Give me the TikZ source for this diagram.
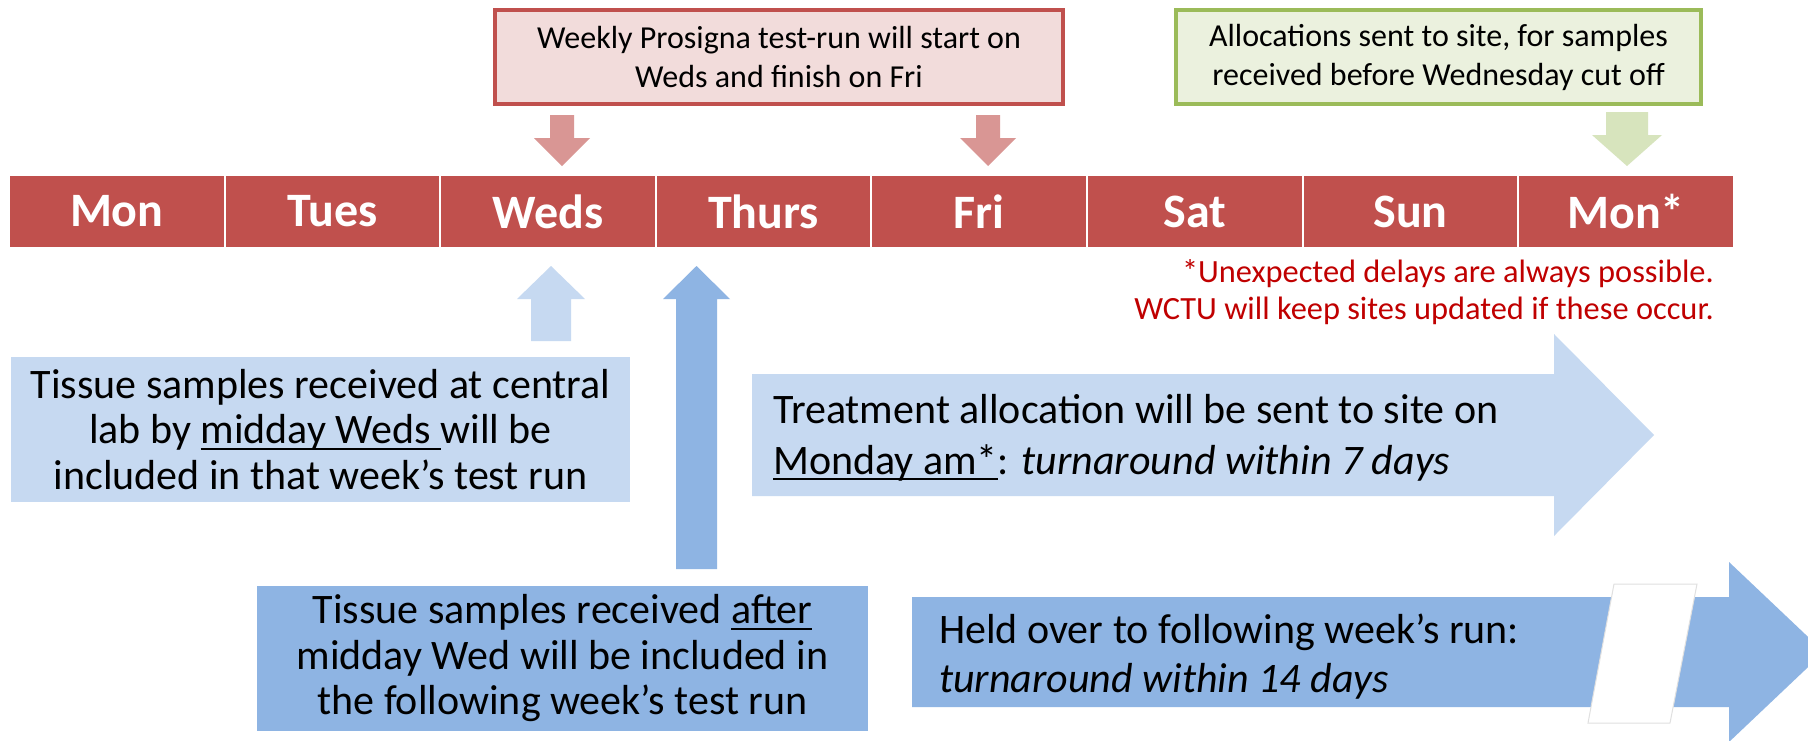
\documentclass[tikz,border=0pt]{standalone}
\usepackage{fontspec}
\setmainfont{Carlito}
\definecolor{dayred}{HTML}{C0504D}
\definecolor{pinkfill}{HTML}{F2DCDB}
\definecolor{redarrow}{HTML}{D99694}
\definecolor{greenborder}{HTML}{9BBB59}
\definecolor{greenfill}{HTML}{EBF1DE}
\definecolor{greenarrow}{HTML}{D7E4BD}
\definecolor{lightblue}{HTML}{C6D9F1}
\definecolor{midblue}{HTML}{8EB4E3}
\definecolor{notered}{HTML}{C00000}
\newcommand{\myul}[1]{\setbox0\hbox{#1}\rlap{\rule[-6pt]{\wd0}{2.2pt}}\box0}
\begin{document}
\begin{tikzpicture}[x=1pt,y=-1pt,
  daycell/.style={fill=dayred, draw=white, line width=2pt, minimum width=215.6pt,
    minimum height=73pt, inner sep=0pt, text=white,
    font=\fontsize{48}{58}\selectfont\bfseries},
  topbox/.style={line width=4pt, minimum width=568pt, minimum height=94pt,
    inner sep=0pt, align=center, font=\fontsize{32}{39}\selectfont},
  bluebox/.style={inner sep=0pt, align=center, font=\fontsize{42}{45.5}\selectfont},
  arrowtext/.style={inner sep=0pt, align=left, anchor=base west, font=\fontsize{42}{51}\selectfont}
]
\clip (0,0) rectangle (1808,740);
\fill[white] (0,0) rectangle (1808,740);

% top boxes
\node[topbox, draw=dayred, fill=pinkfill] (runbox) at (779,57)
  {Weekly Prosigna test-run will start on\\Weds and finish on Fri};
\node[topbox, draw=greenborder, fill=greenfill, minimum width=525pt] (allocbox) at (1438.5,57)
  {Allocations sent to site, for samples\\received before Wednesday cut off};

% down arrows
\fill[redarrow] (550,115)--(574,115)--(574,138)--(590,138)--(562,166)--(534,138)--(550,138)--cycle;
\fill[redarrow] (976,115)--(1000,115)--(1000,138)--(1016,138)--(988,166)--(960,138)--(976,138)--cycle;
\fill[greenarrow] (1606,112)--(1648,112)--(1648,135)--(1662,135)--(1627,166)--(1592,135)--(1606,135)--cycle;

% day bar
\foreach \d [count=\i from 0] in {Mon,Tues,Weds,Thurs,Fri,Sat,Sun,Mon*}
  \node[daycell] (day\i) at ({116.8+215.6*\i},211.5) {\d};

% note
\node[inner sep=0pt, align=right, anchor=base east, text=notered,
  font=\fontsize{32.4}{37}\selectfont] (note) at (1714,319)
  {*Unexpected delays are always possible.\\WCTU will keep sites updated if these occur.};

% up arrows
\fill[lightblue] (531,341)--(571,341)--(571,299)--(585,299)--(551,266)--(517,299)--(531,299)--cycle;
\fill[midblue] (676,569)--(717,569)--(717,299)--(730,299)--(696.5,266)--(663,299)--(676,299)--cycle;

% left boxes
\node[bluebox, fill=lightblue, minimum width=619pt, minimum height=145pt] (earlybox) at (320.5,429.5)
  {Tissue samples received at central\\lab by \myul{midday Weds }will be\\included in that week’s test run};
\node[bluebox, fill=midblue, minimum width=611pt, minimum height=145pt] (latebox) at (562.5,658.5)
  {Tissue samples received \myul{after}\\midday Wed will be included in\\the following week’s test run};

% right block arrows
\fill[lightblue] (752,374)--(1554,374)--(1554,334)--(1654,435)--(1554,536)--(1554,496)--(752,496)--cycle;
\node[arrowtext] (sevendays) at (773,474)
  {Treatment allocation will be sent to site on\\\myul{Monday am*}: \textit{turnaround within 7 days}};

\fill[midblue] (912,597)--(1729,597)--(1729,562)--(1824,652)--(1729,742)--(1729,707)--(912,707)--cycle;
\filldraw[fill=white, draw=black!12, line width=1pt] (1614,584)--(1697,584)--(1670,723)--(1588,723)--cycle;
\node[arrowtext, font=\fontsize{42}{49}\selectfont] (fourteendays) at (939,692)
  {Held over to following week’s run:\\\textit{turnaround within 14 days}};
\end{tikzpicture}
\end{document}
